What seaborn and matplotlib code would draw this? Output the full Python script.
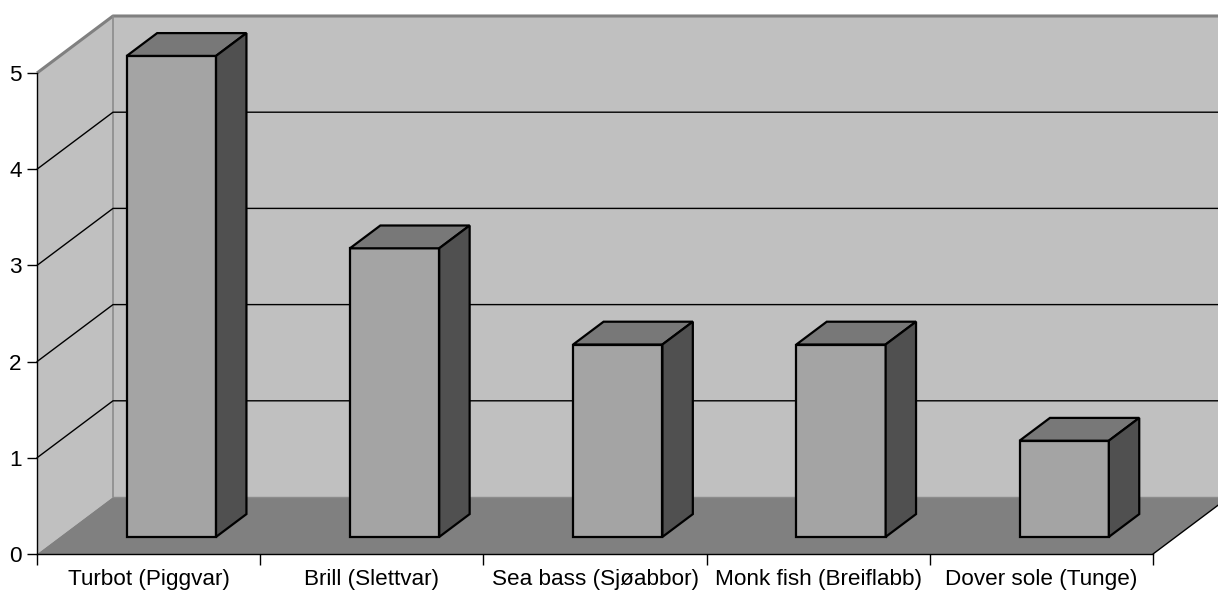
import matplotlib
matplotlib.use("Agg")
import matplotlib.pyplot as plt
from matplotlib.patches import Polygon
import seaborn as sns
import pandas as pd

categories = ["Turbot (Piggvar)", "Brill (Slettvar)", "Sea bass (Sjøabbor)",
              "Monk fish (Breiflabb)", "Dover sole (Tunge)"]
values = [5, 3, 2, 2, 1]
y_ticks = [0, 1, 2, 3, 4, 5]

sns.set_theme(style="white")
plt.rcParams['font.family'] = ['Liberation Sans', 'DejaVu Sans']

W, H = 1218, 593
fig = plt.figure(figsize=(W / 100, H / 100), dpi=100)
ax = fig.add_axes([37 / W, (H - 554) / H, 1116 / W, 481 / H])

df = pd.DataFrame({"cat": categories, "val": values})
sns.barplot(data=df, x="cat", y="val", width=0.4, color="#A4A4A4",
            saturation=1, edgecolor="black", linewidth=1.6, ax=ax, zorder=5)

n = len(categories)
vmax = max(y_ticks)
# oblique depth vector (in data units) for full depth
DX, DY = 0.3405, 0.5925
x0, x1 = -0.5, n - 0.5
xr = x1 + DX + 0.2

# walls and floor
ax.add_patch(Polygon([(x0 + DX, DY), (xr, DY), (xr, vmax + DY), (x0 + DX, vmax + DY)],
                     closed=True, facecolor="#C0C0C0", edgecolor="none", clip_on=False, zorder=0))
ax.add_patch(Polygon([(x0, 0), (x0, vmax), (x0 + DX, vmax + DY), (x0 + DX, DY)],
                     closed=True, facecolor="#C0C0C0", edgecolor="none", clip_on=False, zorder=0))
ax.add_patch(Polygon([(x0, 0), (x1, 0), (x1 + DX, DY), (x0 + DX, DY)],
                     closed=True, facecolor="#808080", edgecolor="none", clip_on=False, zorder=1))
# wall outlines
ax.plot([x0, x0 + DX, xr], [vmax, vmax + DY, vmax + DY], color="#808080", lw=2.2,
        clip_on=False, zorder=1, solid_capstyle="butt")
ax.plot([x0 + DX, x0 + DX], [DY, vmax + DY], color="#8C8C8C", lw=1.2, clip_on=False, zorder=1)
ax.plot([x0 + DX, xr], [DY, DY], color="#8C8C8C", lw=1.0, clip_on=False, zorder=1)
ax.plot([x1, x1 + DX + 0.03], [0, DY + 0.03 * DY / DX], color="black", lw=1.0, clip_on=False, zorder=2)
# gridlines
for v in y_ticks[1:-1]:
    ax.plot([x0, x0 + DX, xr], [v, v + DY, v + DY], color="black", lw=1.0,
            clip_on=False, zorder=2)

# 3D bar shading: shift front faces to mid-depth and add top/side faces
f0, f1 = 0.3, 0.7
for p in ax.patches:
    if not isinstance(p, matplotlib.patches.Rectangle):
        continue
    if p.get_width() > 1:
        continue
    bx, bw, bh = p.get_x(), p.get_width(), p.get_height()
    p.set_xy((bx + f0 * DX, f0 * DY))
    p.set_clip_on(False)
    L, R = bx + f0 * DX, bx + f0 * DX + bw
    B, T = f0 * DY, f0 * DY + bh
    ddx, ddy = (f1 - f0) * DX, (f1 - f0) * DY
    ax.add_patch(Polygon([(L, T), (R, T), (R + ddx, T + ddy), (L + ddx, T + ddy)], closed=True,
                         facecolor="#787878", edgecolor="black", lw=1.6, clip_on=False, zorder=5,
                         joinstyle="miter"))
    ax.add_patch(Polygon([(R, B), (R + ddx, B + ddy), (R + ddx, T + ddy), (R, T)], closed=True,
                         facecolor="#505050", edgecolor="black", lw=1.6, clip_on=False, zorder=5,
                         joinstyle="miter"))

ax.set_xlim(x0, x1)
ax.set_ylim(0, vmax)
ax.set_facecolor("none")
for s in ["top", "right"]:
    ax.spines[s].set_visible(False)
for s in ["left", "bottom"]:
    ax.spines[s].set_color("black")
    ax.spines[s].set_linewidth(1.0)
    ax.spines[s].set_zorder(6)

ax.set_yticks(y_ticks)
ax.set_yticklabels([str(v) for v in y_ticks], fontsize=16.2, color="black")
ax.tick_params(axis="y", length=7, width=1, color="black", pad=4, left=True)
ax.set_xticks([i - 0.5 for i in range(n + 1)])
ax.set_xticklabels([""] * (n + 1))
ax.set_xticks(list(range(n)), minor=True)
ax.set_xticklabels(categories, minor=True, fontsize=16.2, color="black")
ax.tick_params(axis="x", which="major", length=8, width=1, color="black", bottom=True)
ax.tick_params(axis="x", which="minor", length=0, pad=11)
ax.set_xlabel("")
ax.set_ylabel("")

fig.savefig("out.png", dpi=100, facecolor="white")
